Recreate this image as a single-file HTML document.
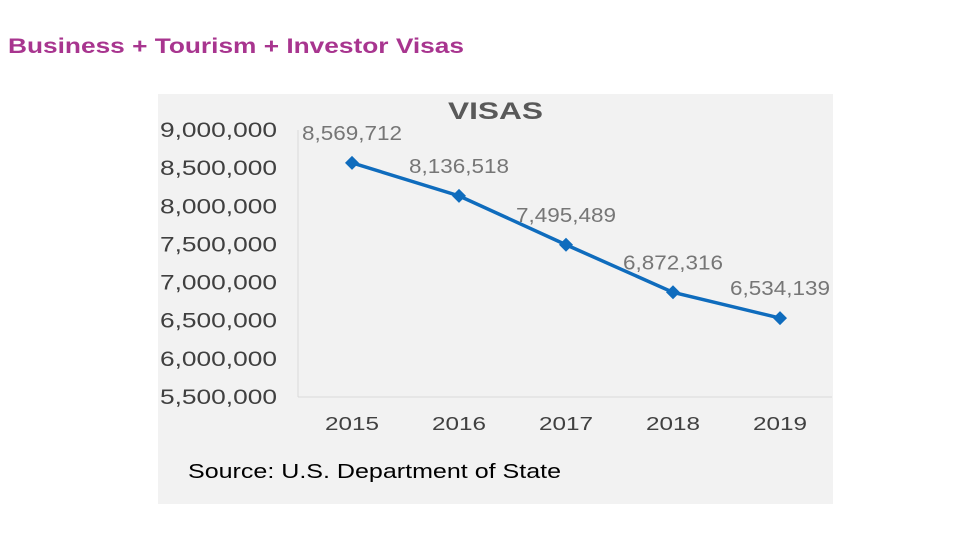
<!DOCTYPE html>
<html><head><meta charset="utf-8"><style>
body{margin:0;width:980px;height:551px;background:#fff;overflow:hidden;font-family:"Liberation Sans",sans-serif}
</style></head><body>
<div style="position:absolute;left:158px;top:94px;width:675px;height:410px;background:#f2f2f2"></div>
<svg width="980" height="551" style="position:absolute;left:0;top:0">
<g id="g"></g>
</svg>
<script>
const years=["2015","2016","2017","2018","2019"];
const values=[8569712,8136518,7495489,6872316,6534139];
const labels=["8,569,712","8,136,518","7,495,489","6,872,316","6,534,139"];
const yTicks=[9000000,8500000,8000000,7500000,7000000,6500000,6000000,5500000];
const yTickLabels=["9,000,000","8,500,000","8,000,000","7,500,000","7,000,000","6,500,000","6,000,000","5,500,000"];
const NS="http://www.w3.org/2000/svg",g=document.getElementById('g');
const y=v=>130+(9000000-v)/500000*38.14;
const x=i=>352+i*107;
function mk(t,a,txt){const e=document.createElementNS(NS,t);for(const k in a)e.setAttribute(k,a[k]);if(txt!==undefined)e.textContent=txt;g.appendChild(e);return e;}
let e=mk('text',{x:8,y:53,'font-size':21,'font-weight':'bold',fill:'#a8358f',textLength:456,lengthAdjust:'spacingAndGlyphs'},'Business + Tourism + Investor Visas');


e=mk('text',{x:448,y:119,'font-size':24,'font-weight':'bold',fill:'#595959',textLength:95,lengthAdjust:'spacingAndGlyphs'},'VISAS');


e=mk('line',{x1:298,y1:130,x2:298,y2:397,stroke:'#d9d9d9','stroke-width':1});


e=mk('line',{x1:298,y1:397,x2:832,y2:397,stroke:'#d9d9d9','stroke-width':1});


yTicks.forEach((t,i)=>{const el=mk('text',{x:160,y:y(t)+7,'font-size':21,fill:'#404040',textLength:117,lengthAdjust:'spacingAndGlyphs'},yTickLabels[i]);

});
years.forEach((yr,i)=>{const el=mk('text',{x:x(i)-27,y:430,'font-size':18,fill:'#404040',textLength:54,lengthAdjust:'spacingAndGlyphs'},yr);

});
e=mk('polyline',{points:values.map((v,i)=>x(i)+','+y(v)).join(' '),fill:'none',stroke:'#0f6cbd','stroke-width':3.5});


values.forEach((v,i)=>{const cx=x(i),cy=y(v);
const m=mk('polygon',{points:`${cx},${cy-7} ${cx+7},${cy} ${cx},${cy+7} ${cx-7},${cy}`,fill:'#0f6cbd'});


const l=mk('text',{x:cx-50,y:cy-23,'font-size':20,fill:'#767676',textLength:100,lengthAdjust:'spacingAndGlyphs'},labels[i]);

});
e=mk('text',{x:188,y:478,'font-size':20,fill:'#000',textLength:373,lengthAdjust:'spacingAndGlyphs'},'Source: U.S. Department of State');


</script>
</body></html>
